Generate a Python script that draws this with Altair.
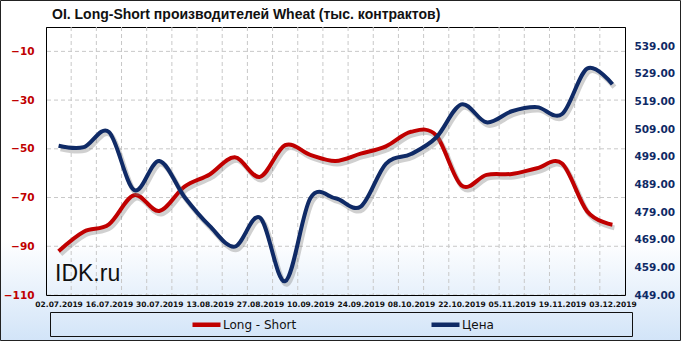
import altair as alt
import pandas as pd

# ---- data ----
dates = pd.date_range("2019-07-02", periods=23, freq="7D")
long_short = [-92, -84, -81, -69, -75.5, -65.5, -60.5, -53.5, -61.5, -48.5, -52.5, -55,
              -52, -49, -43, -44.5, -65, -60.7, -60.3, -58, -56, -75.7, -81.2]
price = [503, 502.5, 508, 487, 497.5, 484.5, 474, 466.5, 477, 454, 484, 484,
         481, 496.5, 500, 506, 518, 511.5, 515.5, 517, 514.5, 531, 525.3]
series_names = ["Long - Short", "Цена"]
left_ticks = [-110, -90, -70, -50, -30, -10]
right_ticks = [449, 459, 469, 479, 489, 499, 509, 519, 529, 539]
left_domain = [-110, 0]
right_domain = [449, 546]

RED = "#c00000"
NAVY = "#0f2a66"

def ms(ts):
    return int(pd.Timestamp(ts).value // 10**6)

date_ms = [ms(d) for d in dates]
x_ticks = date_ms[::2]
half_week = 84 * 3600 * 1000
x_domain = [date_ms[0] - half_week, date_ms[-1] + half_week]
grid_x = [d + half_week for d in date_ms[:-1]]

df = pd.DataFrame({
    "date": date_ms * 2,
    "value": long_short + price,
    "series": [series_names[0]] * 23 + [series_names[1]] * 23,
})
df_ls = df[df.series == series_names[0]]
df_pr = df[df.series == series_names[1]]

W, H = 579, 268
PL, PT, PR, PB = 46, 27, 56, 46

x_scale = alt.Scale(type="utc", domain=x_domain)
x_axis = alt.Axis(values=x_ticks, labelExpr="utcFormat(datum.value, '%d.%m.%Y')", title=None,
                  ticks=False, grid=False, labelFont="DejaVu Sans", labelFontWeight="bold",
                  labelFontSize=7.5, labelColor="#111", labelPadding=5,
                  labelOverlap=False, labelFlush=False, domainColor="#000",
                  domainWidth=1, zindex=1)

yl_axis = alt.Axis(values=left_ticks, title=None, ticks=False, grid=False, labelFont="DejaVu Sans",
                   labelFontWeight="bold", labelFontSize=10.5, labelColor=RED, labelPadding=12,
                   domainColor="#000", zindex=1, orient="left")
yr_axis = alt.Axis(values=right_ticks, format=".2f", title=None, ticks=False, grid=False,
                   labelFont="DejaVu Sans", labelFontWeight="bold", labelFontSize=10.5,
                   labelColor=NAVY, labelPadding=9, domainColor="#000", zindex=1, orient="right")

def xenc(field):
    return alt.X(field, scale=x_scale, axis=x_axis)

def yl(field):
    return alt.Y(field, scale=alt.Scale(domain=left_domain), axis=yl_axis)

def yr(field):
    return alt.Y(field, scale=alt.Scale(domain=right_domain), axis=yr_axis)

color = alt.Color("series:N", scale=alt.Scale(domain=series_names, range=[RED, NAVY]),
                  legend=alt.Legend(title=None, orient="none", legendX=144, legendY=281,
                                    direction="horizontal", columnPadding=125,
                                    labelFont="DejaVu Sans", labelFontSize=12, labelColor="#111",
                                    labelOffset=0, symbolType="stroke", symbolSize=784,
                                    symbolStrokeWidth=4.5, padding=0))

# background gradient (decoration)
bg = alt.Chart(pd.DataFrame({"k": [0]})).mark_rect(
    fill=alt.Gradient(gradient="linear", x1=0, x2=0, y1=0, y2=1,
                      stops=[alt.GradientStop(color="#ffffff", offset=0),
                             alt.GradientStop(color="#d2e4f8", offset=1)])
).encode(x=alt.value(-PL), x2=alt.value(W + PR), y=alt.value(213), y2=alt.value(H + PB))

vgrid = alt.Chart(pd.DataFrame({"g": grid_x})).mark_rule(
    color="#c8c8c8", strokeDash=[4, 3], strokeWidth=1
).encode(x=xenc("g:T"))

hgrid = alt.Chart(pd.DataFrame({"t": left_ticks})).mark_rule(
    color="#c8c8c8", strokeDash=[4, 3], strokeWidth=1
).encode(y=yl("t:Q"))

ls_shadow = alt.Chart(df_ls).mark_line(
    interpolate="cardinal", color="#777", opacity=0.35, strokeWidth=5, xOffset=2, yOffset=3
).encode(x=xenc("date:T"), y=yl("value:Q"))
ls_line = alt.Chart(df_ls).mark_line(interpolate="cardinal", strokeWidth=4).encode(
    x=xenc("date:T"), y=yl("value:Q"), color=color)

pr_shadow = alt.Chart(df_pr).mark_line(
    interpolate="cardinal", color="#777", opacity=0.35, strokeWidth=5, xOffset=2, yOffset=3
).encode(x=xenc("date:T"), y=yr("value:Q"))
pr_line = alt.Chart(df_pr).mark_line(interpolate="cardinal", strokeWidth=4).encode(
    x=xenc("date:T"), y=yr("value:Q"), color=color)

left_layer = alt.layer(hgrid, ls_shadow, ls_line)
right_layer = alt.layer(pr_shadow, pr_line)

watermark = alt.Chart(pd.DataFrame({"t": ["IDK.ru"]})).mark_text(
    font="Liberation Sans", fontSize=23, color="#111", align="left", baseline="alphabetic"
).encode(x=alt.value(9), y=alt.value(254), text="t:N")

legend_box = alt.Chart(pd.DataFrame({"k": [0]})).mark_rect(
    fill=None, stroke="#111", strokeWidth=1
).encode(x=alt.value(4.5), x2=alt.value(586.5), y=alt.value(285.5), y2=alt.value(309.5))

outer_border = alt.Chart(pd.DataFrame({"k": [0]})).mark_rect(
    fill=None, stroke="#222", strokeWidth=1
).encode(x=alt.value(-PL + 0.5), x2=alt.value(W + PR - 0.5), y=alt.value(-PT + 0.5),
         y2=alt.value(H + PB - 0.5))

chart = alt.layer(
    bg, vgrid, left_layer, right_layer, watermark, legend_box, outer_border
).resolve_scale(y="independent").properties(
    width=W, height=H,
    padding={"left": PL, "top": PT, "right": PR, "bottom": PB},
    autosize=alt.AutoSizeParams(type="none"),
    title=alt.TitleParams(text="OI. Long-Short производителей Wheat (тыс. контрактов)",
                          anchor="start", frame="group", dx=6, offset=-33,
                          baseline="alphabetic",
                          font="Liberation Sans", fontSize=14, fontWeight="bold", color="#111"),
    background="#ffffff",
).configure_view(stroke="#000", strokeWidth=1)

chart.save("out.html", embed_options={"renderer": "svg", "actions": False})
